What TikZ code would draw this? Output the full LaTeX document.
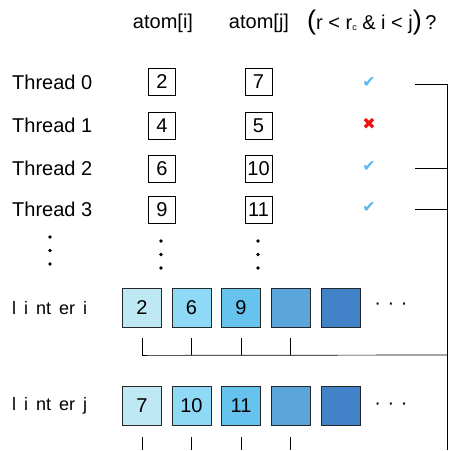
\documentclass[tikz,border=0pt]{standalone}
\usepackage{fontspec}
\setmainfont{Liberation Sans}
\newfontfamily\symfont{DejaVu Sans}
\definecolor{cA}{HTML}{BFE8F5}
\definecolor{cB}{HTML}{8DD9F6}
\definecolor{cC}{HTML}{66C3EE}
\definecolor{cD}{HTML}{5BA5DD}
\definecolor{cE}{HTML}{4282C9}
\definecolor{okblue}{HTML}{5BB8EE}
\definecolor{badred}{HTML}{F01010}
\begin{document}
\begin{tikzpicture}[x=1pt,y=-1pt,
  txt/.style={font=\fontsize{20}{20}\selectfont, inner sep=0pt},
  idxbox/.style={draw, line width=0.8pt, minimum size=27pt, inner sep=0pt, font=\fontsize{20}{20}\selectfont},
  cell/.style={draw=black!85, line width=0.8pt, minimum size=39pt, inner sep=0pt, font=\fontsize{20}{20}\selectfont},
  vdot/.style={circle, fill=black, inner sep=0pt, minimum size=3.6pt},
  wire/.style={line width=0.7pt},
  okmark/.style={font=\symfont\fontsize{16}{16}\selectfont, text=okblue, inner sep=0pt},
  badmark/.style={font=\symfont\fontsize{16}{16}\selectfont, text=badred, inner sep=0pt}]
\useasboundingbox (0,0) rectangle (452,450);

% column headings
\node[txt] (hi) at (163,23) {atom[i]};
\node[txt] (hj) at (259,23) {atom[j]};
\node[txt, anchor=west] (hq) at (307,23)
  {{\fontsize{27}{27}\selectfont(}r < r\raisebox{-1pt}{\fontsize{9}{9}\selectfont c} \& i < j{\fontsize{27}{27}\selectfont)}\,?};

% thread rows
\foreach \k/\y/\a/\b in {0/82/2/7, 1/125.5/4/5, 2/168.5/6/10, 3/209.5/9/11}{
  \node[txt, anchor=west] (t\k) at (12,\y) {Thread \k};
  \node[idxbox] (ai\k) at (162,\y) {\a};
  \node[idxbox] (aj\k) at (258.5,\y) {\b};
}
\node[okmark]  (c0) at (369,82) {✔};
\node[badmark] (c1) at (369,124) {✖};
\node[okmark]  (c2) at (369,166) {✔};
\node[okmark]  (c3) at (369,207) {✔};

% continuation dots
\foreach \x/\y in {50/237, 161/241, 258/241}{
  \node[vdot] at (\x,\y) {};
  \node[vdot] at (\x,\y+13.5) {};
  \node[vdot] at (\x,\y+27) {};
}

% neighbour list buffers
\node[txt, anchor=west, font=\fontsize{18}{18}\selectfont] (li) at (12,308) {l\, i\, nt\, er\, i};
\node[txt, anchor=west, font=\fontsize{18}{18}\selectfont] (lj) at (12,406) {l\, i\, nt\, er\, j};
\foreach \n/\x/\c in {1/142/cA, 2/191.5/cB, 3/241/cC, 4/290.5/cD, 5/340.5/cE}{
  \node[cell, fill=\c] (bi\n) at (\x,307.5) {};
  \node[cell, fill=\c] (bj\n) at (\x,405.5) {};
}
\node[font=\fontsize{20}{20}\selectfont] at (bi1) {2};
\node[font=\fontsize{20}{20}\selectfont] at (bi2) {6};
\node[font=\fontsize{20}{20}\selectfont] at (bi3) {9};
\node[font=\fontsize{20}{20}\selectfont] at (bj1) {7};
\node[font=\fontsize{20}{20}\selectfont] at (bj2) {10};
\node[font=\fontsize{20}{20}\selectfont] at (bj3) {11};
\node[txt] (di) at (391,306) {·\,\,·\,\,·};
\node[txt] (dj) at (391,406) {·\,\,·\,\,·};

% wiring from successful threads to the buffers
\coordinate (w0) at (415,84);
\coordinate (w2) at (415,168);
\coordinate (w3) at (415,209);
\coordinate (bus0) at (447,84);
\coordinate (bus2) at (447,168);
\coordinate (bus3) at (447,209);
\coordinate (busi) at (447,355);
\coordinate (busend) at (447,450);
\draw[wire] (w0) -- (bus0) -- (busend);
\draw[wire] (w2) -- (bus2);
\draw[wire] (w3) -- (bus3);
\foreach \n in {1,2,3,4}{
  \draw[wire] ([yshift=-11pt]bi\n.south) -- ([yshift=-28pt]bi\n.south);
  \draw[wire] ([yshift=-12pt]bj\n.south) -- ([yshift=-25pt]bj\n.south);
}
\draw[wire] ([yshift=-28pt]bi1.south) -- (busi);
\end{tikzpicture}
\end{document}
